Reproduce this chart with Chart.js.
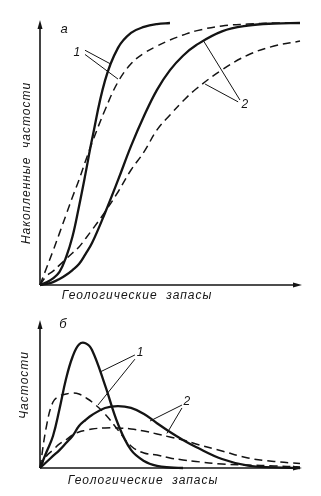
<!DOCTYPE html>
<html>
<head>
<meta charset="utf-8">
<script src="https://cdn.jsdelivr.net/npm/chart.js@4.4.1/dist/chart.umd.min.js"></script>
<style>
  body { margin: 0; background: #fff; }
  .panel { position: absolute; left: 0; }
</style>
</head>
<body>
<div class="panel" style="top:0"><canvas id="chartA" width="321" height="300"></canvas></div>
<div class="panel" style="top:300px"><canvas id="chartB" width="321" height="196"></canvas></div>
<script>
// shared x grid (геологические запасы, условные единицы)
var reserves = [0, 2.5, 5, 7.5, 10, 12.5, 15, 17.5, 20, 25, 30, 35, 40, 45, 50, 55, 60, 70, 80, 90, 100];

// а: накопленные частости
var cum1Solid  = [0, 1.0, 2.5, 5.0, 10.5, 18.5, 30.0, 42.5, 55.5, 78.0, 90.5, 96.2, 98.5, 99.6, 100, null, null, null, null, null, null];
var cum1Dashed = [0, 6.5, 13.0, 19.8, 26.7, 33.6, 40.1, 47.3, 54.2, 66.8, 77.5, 84.4, 88.5, 91.2, 93.5, 95.4, 97.0, 98.9, 99.6, 100, 100];
var cum2Solid  = [0, 0.4, 1.1, 2.3, 3.8, 5.7, 8.0, 11.8, 16.0, 27.5, 40.0, 53.0, 64.5, 74.5, 82.0, 87.5, 91.5, 96.8, 99.0, 99.8, 100];
var cum2Dashed = [0, 3.4, 5.3, 7.6, 9.9, 12.2, 14.5, 17.7, 21.0, 27.9, 35.5, 43.9, 50.8, 59.2, 64.9, 70.2, 74.8, 82.1, 87.8, 91.2, 93.1];

// б: частости
var freq1Solid  = [0, 12.5, 25.0, 46.1, 69.5, 86.7, 96.5, 97.5, 92.2, 64.8, 34.4, 14.1, 5.5, 1.6, 0.4, 0, null, null, null, null, null];
var freq1Dashed = [0, 32.8, 51.6, 56.3, 57.8, 58.6, 57.8, 55.0, 51.6, 42.2, 29.7, 17.2, 11.7, 10.2, 7.8, 6.3, 5.1, 3.1, 2.3, 1.6, 0.8];
var freq2Solid  = [0, 4.7, 9.4, 14.0, 19.5, 25.0, 32.8, 37.5, 41.4, 46.9, 48.4, 46.9, 42.2, 35.0, 28.1, 21.9, 16.4, 7.0, 1.8, 0.5, 0];
var freq2Dashed = [0, 9.4, 14.1, 18.8, 21.9, 25.8, 28.1, 29.4, 30.5, 31.3, 31.3, 30.5, 28.9, 26.6, 24.2, 21.9, 18.8, 13.3, 7.8, 5.1, 3.5];

var xTitle = 'Геологические  запасы';
var yTitleA = 'Накопленные  частости';
var yTitleB = 'Частости';

var INK = '#141414';
var FONT = 'italic 12px "Liberation Sans"';

function series(values, dashed) {
    return {
        data: values.map(function (v, i) { return { x: reserves[i], y: v }; }),
        borderColor: INK,
        borderWidth: dashed ? 1.5 : 2.3,
        borderDash: dashed ? [8, 5] : [],
        pointRadius: 0,
        tension: 0.4,
        spanGaps: false,
        clip: false,
        fill: false
    };
}

// axes with arrows, titles, curve numbers and leader lines
var figurePlugin = {
    id: 'figure',
    afterDraw: function (chart, args, opts) {
        var ctx = chart.ctx, a = chart.chartArea;
        var sx = chart.scales.x, sy = chart.scales.y;
        ctx.save();
        ctx.strokeStyle = INK;
        ctx.fillStyle = INK;
        ctx.lineWidth = 1.6;
        ctx.setLineDash([]);
        var yTip = a.top - opts.yExtra, xTip = a.right + opts.xExtra;
        ctx.beginPath();
        ctx.moveTo(a.left, a.bottom);
        ctx.lineTo(a.left, yTip + 4);
        ctx.moveTo(a.left, a.bottom);
        ctx.lineTo(xTip - 4, a.bottom);
        ctx.stroke();
        // arrow heads
        ctx.beginPath();
        ctx.moveTo(a.left, yTip);
        ctx.lineTo(a.left - 2.5, yTip + 9);
        ctx.lineTo(a.left + 2.5, yTip + 9);
        ctx.closePath();
        ctx.fill();
        ctx.beginPath();
        ctx.moveTo(xTip, a.bottom);
        ctx.lineTo(xTip - 9, a.bottom - 2.5);
        ctx.lineTo(xTip - 9, a.bottom + 2.5);
        ctx.closePath();
        ctx.fill();

        // leader lines
        ctx.lineWidth = 1;
        opts.leaders.forEach(function (l) {
            ctx.beginPath();
            ctx.moveTo(sx.getPixelForValue(l[0]), sy.getPixelForValue(l[1]));
            ctx.lineTo(sx.getPixelForValue(l[2]), sy.getPixelForValue(l[3]));
            ctx.stroke();
        });

        // texts
        ctx.font = FONT;
        ctx.letterSpacing = '1px';
        ctx.textAlign = 'center';
        ctx.textBaseline = 'middle';
        ctx.fillText(xTitle, opts.xTitlePos[0], opts.xTitlePos[1]);
        ctx.save();
        ctx.translate(opts.yTitlePos[0], opts.yTitlePos[1]);
        ctx.rotate(-Math.PI / 2);
        ctx.fillText(opts.yTitle, 0, 0);
        ctx.restore();
        ctx.letterSpacing = '0px';
        ctx.font = 'italic 13px "Liberation Sans"';
        ctx.fillText(opts.letter[0], opts.letter[1], opts.letter[2]);
        ctx.font = 'italic 12px "Liberation Sans"';
        opts.numbers.forEach(function (n) {
            ctx.fillText(n[0], sx.getPixelForValue(n[1]), sy.getPixelForValue(n[2]));
        });
        ctx.restore();
    }
};

function makeChart(id, sets, padding, fig) {
    return new Chart(document.getElementById(id), {
        type: 'line',
        data: { datasets: sets },
        plugins: [figurePlugin],
        options: {
            responsive: false,
            animation: false,
            devicePixelRatio: 1,
            layout: { padding: padding },
            plugins: { legend: { display: false }, tooltip: { enabled: false }, figure: fig },
            scales: {
                x: { type: 'linear', min: 0, max: 100, display: false },
                y: { type: 'linear', min: 0, max: 100, display: false }
            }
        }
    });
}

makeChart('chartA',
    [series(cum1Solid, false), series(cum1Dashed, true), series(cum2Solid, false), series(cum2Dashed, true)],
    { left: 40, right: 21, top: 23, bottom: 15 },
    {
        yExtra: 3, xExtra: 2,
        xTitlePos: [137, 296], yTitlePos: [27, 163], yTitle: yTitleA,
        letter: ['а', 64, 29],
        numbers: [['1', 14.2, 88.5], ['2', 78.8, 69.0]],
        leaders: [
            [17.3, 89.6, 26.9, 84.5], [17.3, 88.0, 30.0, 78.6],
            [76.9, 70.6, 62.7, 93.5], [76.2, 69.9, 63.5, 76.7]
        ]
    });

makeChart('chartB',
    [series(freq1Solid, false), series(freq1Dashed, true), series(freq2Solid, false), series(freq2Dashed, true)],
    { left: 40, right: 21, top: 40, bottom: 28 },
    {
        yExtra: 20, xExtra: 2,
        xTitlePos: [143, 181], yTitlePos: [25, 85], yTitle: yTitleB,
        letter: ['б', 63, 24],
        numbers: [['1', 38.5, 90.5], ['2', 56.5, 52.0]],
        leaders: [
            [36.5, 88.3, 23.1, 75.0], [36.5, 85.0, 22.3, 49.2],
            [54.6, 49.2, 42.3, 36.7], [54.6, 46.9, 48.8, 27.0]
        ]
    });
</script>
</body>
</html>
